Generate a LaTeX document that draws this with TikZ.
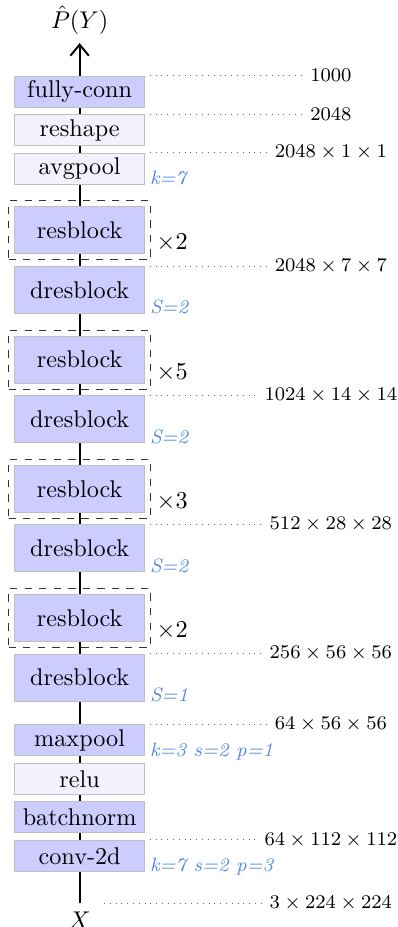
\documentclass[tikz,border=0pt]{standalone}
\usepackage{amsmath, amssymb}
\usepackage{xcolor}
\usepackage{tikz}
\usetikzlibrary{positioning, fit, calc, backgrounds, arrows.meta}
\definecolor{paramblue}{RGB}{85, 135, 230}

\begin{document}
\begin{tikzpicture}[node distance=2.7pt, auto,
    layer/.style={rectangle, draw=black!25, fill=blue!20, minimum width=53.6pt, minimum height=12.8pt, inner sep=0pt},
    flat/.style={layer, fill=blue!5},
    big/.style={layer, minimum height=19.4pt},
    repeatbox/.style={draw=black!80, dashed, inner sep=2.3pt},
    repcount/.style={anchor=south west, xshift=-1.2pt},
    dim/.style={font=\footnotesize},
    dimline/.style={dotted, black!60},
    param/.style={anchor=base west, font=\footnotesize\itshape, text=paramblue, inner sep=0pt, xshift=1.9pt},
    flow/.style={thick, -{Straight Barb[length=4.6pt, width=7.6pt]}}]

    \useasboundingbox (-32.9pt, 37.9pt) rectangle (131.5pt, -345.1pt);

    % Head
    \node[layer] (fc) {fully-conn};
    \node[flat, below=of fc] (reshape) {reshape};
    \node[flat, below=of reshape] (avgpool) {avgpool};

    % Stage 4
    \node[big, below=9pt of avgpool] (res4) {resblock};
    \node[big, below=4.8pt of res4] (dres4) {dresblock};

    % Stage 3
    \node[big, below=9pt of dres4] (res3) {resblock};
    \node[big, below=4.8pt of res3] (dres3) {dresblock};

    % Stage 2
    \node[big, below=9pt of dres3] (res2) {resblock};
    \node[big, below=4.8pt of res2] (dres2) {dresblock};

    % Stage 1
    \node[big, below=9pt of dres2] (res1) {resblock};
    \node[big, below=4.8pt of res1] (dres1) {dresblock};

    % Stem
    \node[layer, below=9.4pt of dres1] (maxpool) {maxpool};
    \node[flat, below=of maxpool] (relu) {relu};
    \node[layer, below=of relu] (bnorm) {batchnorm};
    \node[layer, below=of bnorm] (conv) {conv-2d};

    % Input / output
    \node[below=12.9pt of conv] (input) {$X$};
    \node[above=13.5pt of fc] (output) {$\hat{P}(Y)$};

    % Repeats
    \node[repeatbox, fit=(res4)] (rep4) {};
    \node[repcount] at (rep4.south east) {$\times 2$};
    \node[repeatbox, fit=(res3)] (rep3) {};
    \node[repcount] at (rep3.south east) {$\times 5$};
    \node[repeatbox, fit=(res2)] (rep2) {};
    \node[repcount] at (rep2.south east) {$\times 3$};
    \node[repeatbox, fit=(res1)] (rep1) {};
    \node[repcount] at (rep1.south east) {$\times 2$};

    % Parameters
    \node[param] at (avgpool.south east) {k=7};
    \node[param] at (dres4.south east) {S=2};
    \node[param] at (dres3.south east) {S=2};
    \node[param] at (dres2.south east) {S=2};
    \node[param] at (dres1.south east) {S=1};
    \node[param] at (maxpool.south east) {k=3 s=2 p=1};
    \node[param] at (conv.south east) {k=7 s=2 p=3};

    % Tensor sizes
    \coordinate (dimcol) at (103.8pt, 0);
    \node[dim] (dfc) at (fc.north -| dimcol) {$1000$};
    \node[dim] (dreshape) at (reshape.north -| dimcol) {$2048$};
    \node[dim] (davgpool) at (avgpool.north -| dimcol) {$2048\times1\times1$};
    \node[dim] (ddres4) at (dres4.north -| dimcol) {$2048\times7\times7$};
    \node[dim] (ddres3) at (dres3.north -| dimcol) {$1024\times14\times14$};
    \node[dim] (ddres2) at (dres2.north -| dimcol) {$512\times28\times28$};
    \node[dim] (ddres1) at (dres1.north -| dimcol) {$256\times56\times56$};
    \node[dim] (dmaxpool) at (maxpool.north -| dimcol) {$64\times56\times56$};
    \node[dim] (dconv) at (conv.north -| dimcol) {$64\times112\times112$};
    \node[dim] (dinput) at (input.north -| dimcol) {$3\times224\times224$};

    \draw[dimline] ($(fc.north east)+(2pt,0)$) -- (dfc);
    \draw[dimline] ($(reshape.north east)+(2pt,0)$) -- (dreshape);
    \draw[dimline] ($(avgpool.north east)+(2pt,0)$) -- (davgpool);
    \draw[dimline] ($(dres4.north east)+(2pt,0)$) -- (ddres4);
    \draw[dimline] ($(dres3.north east)+(2pt,0)$) -- (ddres3);
    \draw[dimline] ($(dres2.north east)+(2pt,0)$) -- (ddres2);
    \draw[dimline] ($(dres1.north east)+(2pt,0)$) -- (ddres1);
    \draw[dimline] ($(maxpool.north east)+(2pt,0)$) -- (dmaxpool);
    \draw[dimline] ($(conv.north east)+(2pt,0)$) -- (dconv);
    \draw[dimline] ($(input.north east)+(2pt,0)$) -- (dinput);

    % Data flow
    \begin{scope}[on background layer]
        \draw[flow] (input) -- (output);
    \end{scope}
\end{tikzpicture}
\end{document}
